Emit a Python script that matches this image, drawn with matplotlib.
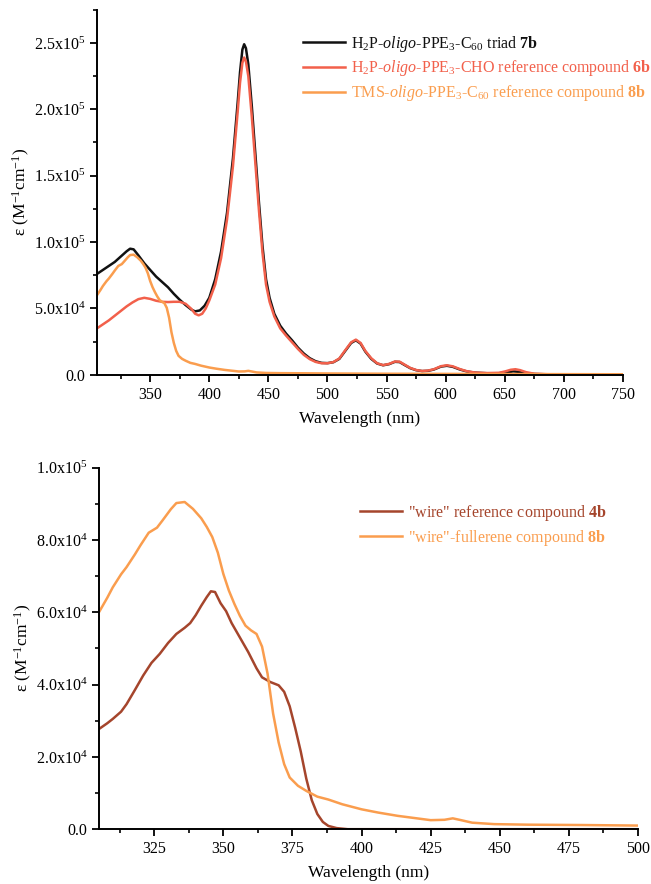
"""UV-vis absorption spectra of the triad and reference compounds"""

import matplotlib
matplotlib.use('Agg')
import matplotlib.pyplot as plt
from matplotlib.ticker import MultipleLocator, FuncFormatter

plt.rcParams['font.family'] = ['Liberation Serif', 'DejaVu Serif']
plt.rcParams['mathtext.fontset'] = 'custom'
plt.rcParams['mathtext.rm'] = 'Liberation Serif'
plt.rcParams['mathtext.it'] = 'Liberation Serif:italic'
plt.rcParams['mathtext.bf'] = 'Liberation Serif:bold'

# triad 7b
triad_wl = [305, 310, 315, 320, 325, 330, 333, 336, 340, 345, 350, 355, 360, 365, 370,
            375, 380, 385, 388, 392, 396, 400, 405, 410, 415, 420, 424, 426, 428, 429.5,
            431, 433, 436, 439, 442, 445, 448, 451, 455, 460, 465, 470, 475, 480, 485, 490,
            495, 500, 505, 510, 515, 520, 524, 528, 532, 537, 542, 547, 552, 557, 561,
            565, 570, 575, 580, 585, 590, 596, 601, 606, 612, 618, 625, 635, 645, 652,
            657, 662, 668, 675, 690, 710, 730, 750]
triad_eps = [76000, 79000, 82000, 85000, 89000, 93000, 95000, 94500, 90000, 84000,
             79000, 74000, 70000, 66000, 61000, 56500, 52500, 49000, 47800, 48500,
             52000, 58000, 72000, 93000, 122000, 163000, 205000, 228000, 245000, 249000,
             246000, 234000, 202000, 166000, 130000, 97000, 72000, 58000, 46000, 37000,
             31000, 26000, 20500, 16000, 12500, 10200, 9000, 8800, 9500, 12000, 18000,
             24000, 26000, 23500, 17500, 12000, 8500, 7200, 8000, 9800, 9600,
             7500, 5000, 3500, 2800, 3000, 4000, 6200, 6800, 6000, 4000,
             2500, 1600, 1200, 1200, 1800, 2600, 2200, 1200, 600, 300, 150, 100, 50]

# reference porphyrin 6b
cho_wl = [305, 310, 315, 320, 325, 330, 335, 340, 345, 350, 355, 360, 365, 370, 375,
          380, 385, 388, 391, 394, 397, 400, 405, 410, 415, 420, 424, 426, 428, 429.5,
          431, 433, 436, 439, 442, 445, 448, 451, 455, 460, 465, 470, 475, 480, 485, 490,
          495, 500, 505, 510, 515, 520, 524, 528, 532, 537, 542, 547, 552, 557, 561,
          565, 570, 575, 580, 585, 590, 596, 601, 606, 612, 618, 625, 635, 645, 650,
          655, 659, 663, 668, 675, 690, 710, 730, 750]
cho_eps = [35000, 38000, 41000, 44500, 48000, 51500, 54500, 57000, 58000, 57200,
           55800, 55000, 54800, 55000, 55000, 53500, 49500, 46000, 44800, 46000,
           50000, 56000, 68000, 88000, 117000, 157000, 198000, 220000, 235000, 239000,
           236000, 225000, 194000, 159000, 124000, 92000, 68000, 55000, 44000, 35000,
           29500, 24500, 19500, 15000, 11800, 9700, 8700, 8700, 9600, 12300, 18500,
           24500, 26500, 24000, 18000, 12500, 8700, 7300, 8200, 10000, 9900,
           7800, 5200, 3600, 2900, 3200, 4200, 6500, 7200, 6400, 4300,
           2700, 1700, 1300, 1500, 2500, 3800, 4200, 3500, 2000, 800, 300, 150, 100, 50]

# wire-fullerene 8b (same compound in both panels)
full_wl = [305, 308, 310, 313, 315, 318, 320, 323, 326, 328, 331, 333, 336, 339, 342,
           344, 346, 348, 350, 352, 354, 356, 358, 360, 362, 364, 366, 368, 370, 372,
           374, 377, 380, 384, 388, 393, 400, 406, 413, 420, 425, 430, 433, 436, 440,
           448, 460, 480, 500, 550, 600, 650, 700, 750]
full_eps = [60000, 64000, 66900, 70500, 72500, 76000, 78500, 82000, 83400, 85400,
            88500, 90200, 90500, 88600, 86000, 83600, 80800, 76500, 70600, 66000,
            62300, 59000, 56300, 55000, 54000, 50500, 43000, 32000, 24000, 18000,
            14300, 12000, 10600, 9000, 8200, 6900, 5500, 4600, 3700, 3000,
            2500, 2600, 3000, 2500, 1800, 1400, 1250, 1150, 1000, 800, 700, 600, 500, 400]

# wire reference 4b
wire_wl = [305, 308, 310, 313, 315, 318, 321, 324, 327, 330, 333, 336, 338, 340, 342,
           344, 345.5, 347, 349, 351, 353, 356, 359, 362, 364, 367, 370, 372, 374, 376,
           378, 380, 382, 384, 386, 388, 391, 395, 400, 500]
wire_eps = [27700, 29300, 30500, 32500, 34600, 38500, 42500, 46000, 48500, 51500,
            54000, 55700, 57000, 59200, 61800, 64200, 65800, 65600, 62500, 60300,
            57000, 53000, 49000, 44500, 42000, 40700, 39800, 38000, 34000, 28000,
            21500, 14000, 8000, 4200, 2000, 900, 300, 0, 0, 0]

BLACK = '#111111'
RED = '#f2604b'
ORANGE = '#fa9d4e'
BROWN = '#a5452c'

labels_top = [r'H$_2$P-$\mathit{oligo}$-PPE$_3$-C$_{60}$ triad $\mathbf{7b}$',
              r'H$_2$P-$\mathit{oligo}$-PPE$_3$-CHO reference compound $\mathbf{6b}$',
              r'TMS-$\mathit{oligo}$-PPE$_3$-C$_{60}$ reference compound $\mathbf{8b}$']
labels_bot = [r'"wire" reference compound $\mathbf{4b}$',
              r'"wire"-fullerene compound $\mathbf{8b}$']


def sci_fmt(v, pos):
    if abs(v) < 1e-9:
        return '0.0'
    e = 0
    m = v
    while abs(m) >= 10:
        m /= 10
        e += 1
    return r'$\mathregular{%.1fx10^{%d}}$' % (m, e)


def style_axes(ax):
    for s in ('top', 'right'):
        ax.spines[s].set_visible(False)
    for s in ('left', 'bottom'):
        ax.spines[s].set_linewidth(1.4)
    ax.tick_params(which='major', direction='out', length=5, width=1.3, labelsize=11.5)
    ax.tick_params(which='minor', direction='out', length=3, width=1.2)
    ax.yaxis.set_major_formatter(FuncFormatter(sci_fmt))
    ax.set_xlabel('Wavelength (nm)', fontsize=12.5, labelpad=6)
    ax.set_ylabel(r'ε (M$^{-1}$cm$^{-1}$)', fontsize=12.5, labelpad=1)


fig = plt.figure(figsize=(6.51, 8.84), dpi=100)

ax1 = fig.add_axes([0.149, 0.576, 0.808, 0.413])
ax1.plot(triad_wl, triad_eps, color=BLACK, lw=1.8, label=labels_top[0])
ax1.plot(cho_wl, cho_eps, color=RED, lw=1.8, label=labels_top[1])
ax1.plot(full_wl, full_eps, color=ORANGE, lw=1.8, label=labels_top[2])
ax1.set_xlim(305, 750)
ax1.set_ylim(0, 2.75e5)
ax1.xaxis.set_major_locator(MultipleLocator(50))
ax1.xaxis.set_minor_locator(MultipleLocator(25))
ax1.yaxis.set_major_locator(MultipleLocator(5e4))
ax1.yaxis.set_minor_locator(MultipleLocator(2.5e4))
style_axes(ax1)
leg1 = ax1.legend(loc='upper left', bbox_to_anchor=(0.466, 0.962), bbox_transform=fig.transFigure,
                  frameon=False, fontsize=11.5, handlelength=2.6, handletextpad=0.4,
                  labelspacing=0.3, borderpad=0, borderaxespad=0)
for t, c in zip(leg1.get_texts(), [BLACK, RED, ORANGE]):
    t.set_color(c)

ax2 = fig.add_axes([0.152, 0.062, 0.828, 0.409])
ax2.plot(wire_wl, wire_eps, color=BROWN, lw=1.8, label=labels_bot[0])
ax2.plot(full_wl, full_eps, color=ORANGE, lw=1.8, label=labels_bot[1])
ax2.set_xlim(305, 500)
ax2.set_ylim(0, 1e5)
ax2.xaxis.set_major_locator(MultipleLocator(25))
ax2.xaxis.set_minor_locator(MultipleLocator(12.5))
ax2.yaxis.set_major_locator(MultipleLocator(2e4))
ax2.yaxis.set_minor_locator(MultipleLocator(1e4))
style_axes(ax2)
leg2 = ax2.legend(loc='upper left', bbox_to_anchor=(0.553, 0.431), bbox_transform=fig.transFigure,
                  frameon=False, fontsize=11.5, handlelength=2.6, handletextpad=0.4,
                  labelspacing=0.3, borderpad=0, borderaxespad=0)
for t, c in zip(leg2.get_texts(), [BROWN, ORANGE]):
    t.set_color(c)

fig.savefig('out.png', dpi=100)
plt.close(fig)
